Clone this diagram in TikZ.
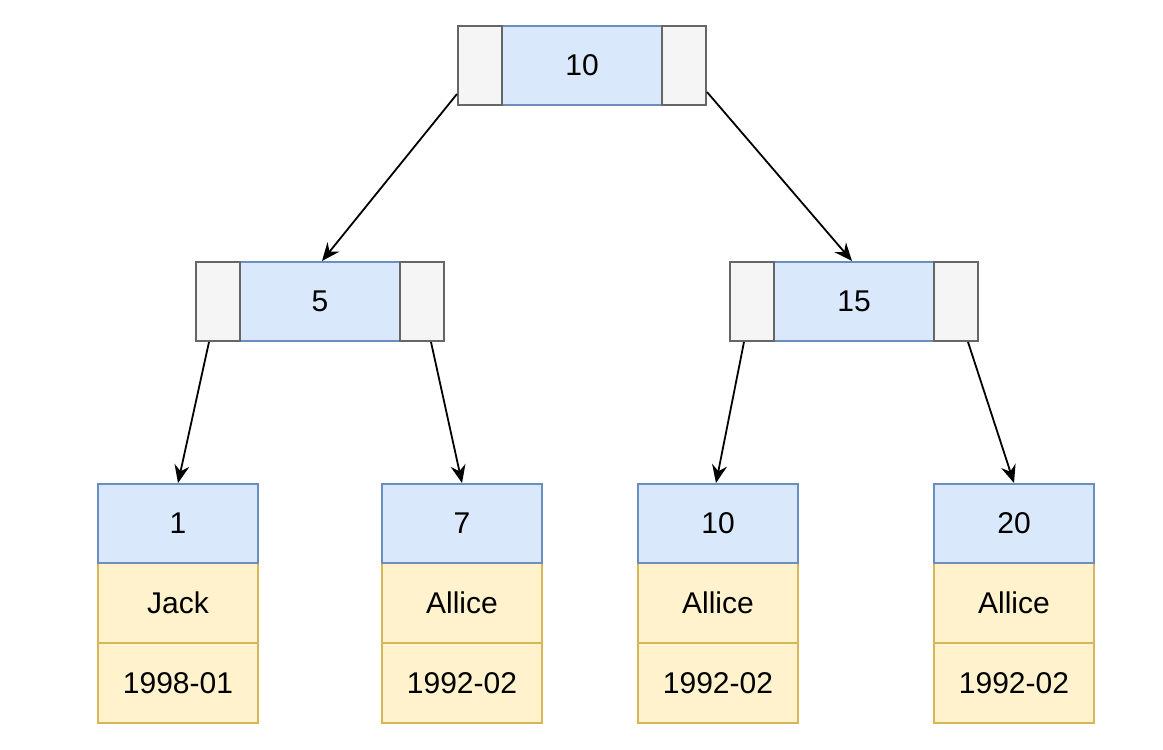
\documentclass[tikz,border=0pt]{standalone}
\usepackage{fontspec}
\setmainfont{Liberation Sans}
\usetikzlibrary{arrows.meta}
\definecolor{bfill}{HTML}{DAE8FC}
\definecolor{bline}{HTML}{6C8EBF}
\definecolor{yfill}{HTML}{FFF2CC}
\definecolor{yline}{HTML}{D6B656}
\definecolor{gfill}{HTML}{F5F5F5}
\definecolor{gline}{HTML}{666666}
\tikzset{
  cell/.style={rectangle, inner sep=0pt, line width=2pt, anchor=north west,
    font=\fontsize{30}{36}\selectfont},
  keycell/.style={cell, fill=bfill, draw=bline, minimum width=160pt, minimum height=79pt},
  sidecell/.style={cell, fill=gfill, draw=gline, minimum width=44pt, minimum height=79pt},
  datacell/.style={cell, fill=yfill, draw=yline, minimum width=160pt, minimum height=80pt},
  link/.style={line width=1.8pt, -{Stealth[length=18pt,width=15pt,inset=6pt]}}
}
\begin{document}
\begin{tikzpicture}[x=1pt,y=-1pt]
\useasboundingbox (0,0) rectangle (1163,750);
% root
\node[keycell] (r) at (501,25) {10};
\node[sidecell] (rl) at (457,25) {};
\node[sidecell] (rr) at (661,25) {};
% middle left
\node[keycell] (m1) at (239,261) {5};
\node[sidecell] (m1l) at (195,261) {};
\node[sidecell] (m1r) at (399,261) {};
% middle right
\node[keycell] (m2) at (773,261) {15};
\node[sidecell] (m2l) at (729,261) {};
\node[sidecell] (m2r) at (933,261) {};
% leaves
\node[datacell] (l1b) at (97,562) {Jack};
\node[datacell] (l1c) at (97,642) {1998-01};
\node[keycell] (l1) at (97,483) {1};
\node[datacell] (l2b) at (381,562) {Allice};
\node[datacell] (l2c) at (381,642) {1992-02};
\node[keycell] (l2) at (381,483) {7};
\node[datacell] (l3b) at (637,562) {Allice};
\node[datacell] (l3c) at (637,642) {1992-02};
\node[keycell] (l3) at (637,483) {10};
\node[datacell] (l4b) at (933,562) {Allice};
\node[datacell] (l4c) at (933,642) {1992-02};
\node[keycell] (l4) at (933,483) {20};
% links
\draw[link] ([yshift=12pt]rl.south west) -- ([xshift=2pt]m1.north);
\draw[link] ([yshift=14pt]rr.south east) -- ([xshift=-2pt]m2.north);
\draw[link] ([xshift=-9pt]m1l.south) -- (l1.north);
\draw[link] ([xshift=9pt]m1r.south) -- (l2.north);
\draw[link] ([xshift=-8pt]m2l.south) -- ([xshift=-2pt]l3.north);
\draw[link] ([xshift=12pt]m2r.south) -- (l4.north);
\end{tikzpicture}
\end{document}
